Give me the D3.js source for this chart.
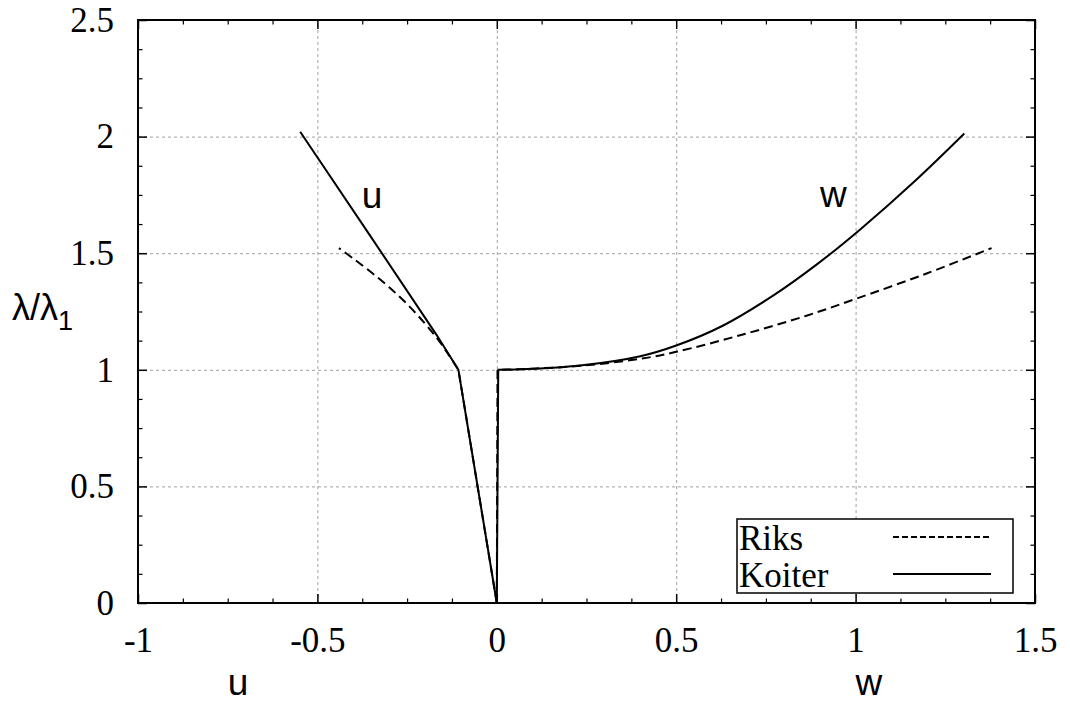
<!DOCTYPE html>
<html>
<head>
<meta charset="utf-8">
<script src="https://cdn.jsdelivr.net/npm/d3@7"></script>
<style>
    body { margin: 0; background: #fff; }
    svg { display: block; }
    .serif { font-family: 'Liberation Serif', 'DejaVu Serif', 'Noto Serif', 'Times New Roman', serif; }
    .sans { font-family: 'Liberation Sans', Arial, Helvetica, sans-serif; }
</style>
</head>
<body>
<svg id="chart" width="1070" height="704"></svg>
<script>
// values, [displacement, load ratio]
// first two points = straight stem up to the buckling load, the rest = post-buckling branch
const riksU = [[0, 0], [-0.107, 1.0], [-0.13, 1.055], [-0.16, 1.122], [-0.2, 1.198], [-0.25, 1.282], [-0.3, 1.354], [-0.35, 1.418], [-0.4, 1.477], [-0.44, 1.522]];
const koiterU = [[0, 0], [-0.107, 1.0], [-0.168, 1.15], [-0.363, 1.598], [-0.548, 2.021]];
const riksW = [[0, 0], [0.002, 1.0], [0.1, 1.005], [0.232, 1.017], [0.4, 1.047], [0.5, 1.077], [0.678, 1.148], [0.863, 1.232], [1.0, 1.304], [1.198, 1.413], [1.379, 1.522]];
const koiterW = [[0, 0], [0.004, 1.0], [0.1, 1.004], [0.232, 1.018], [0.4, 1.058], [0.5, 1.104], [0.631, 1.190], [0.771, 1.319], [0.892, 1.452], [1.012, 1.601], [1.170, 1.816], [1.303, 2.013]];

const xTicks = [-1, -0.5, 0, 0.5, 1, 1.5];
const yTicks = [0, 0.5, 1, 1.5, 2, 2.5];
const legendLabels = ['Riks', 'Koiter'];

const width = 1070;
const height = 704;
const marginTop = 20;
const marginRight = 35;
const marginBottom = 101;
const marginLeft = 138;

const svg = d3.select('#chart');

const x = d3.scaleLinear()
    .domain([-1, 1.5])
    .range([marginLeft, width - marginRight]);

const y = d3.scaleLinear()
    .domain([0, 2.5])
    .range([height - marginBottom, marginTop]);

const minorX = d3.range(-1, 1.5001, 0.125).filter(d => !xTicks.some(t => Math.abs(t - d) < 1e-6));
const minorY = d3.range(0, 2.5001, 0.125).filter(d => !yTicks.some(t => Math.abs(t - d) < 1e-6));

// Grid lines
svg.append('g')
    .attr('transform', `translate(0, ${height - marginBottom})`)
    .call(d3.axisBottom(x).tickValues(xTicks.slice(1, -1)).tickSize(-(height - marginTop - marginBottom)).tickFormat(''))
    .call(g => g.select('.domain').remove())
    .selectAll('line')
    .attr('stroke', '#a0a0a0')
    .attr('stroke-width', 1)
    .attr('stroke-dasharray', '3,3');

svg.append('g')
    .attr('transform', `translate(${marginLeft}, 0)`)
    .call(d3.axisLeft(y).tickValues(yTicks.slice(1, -1)).tickSize(-(width - marginLeft - marginRight)).tickFormat(''))
    .call(g => g.select('.domain').remove())
    .selectAll('line')
    .attr('stroke', '#a0a0a0')
    .attr('stroke-width', 1)
    .attr('stroke-dasharray', '3,3');

// Curves: straight stem + smooth branch
const stem = d3.line().x(d => x(d[0])).y(d => y(d[1]));
const branch = d3.line().x(d => x(d[0])).y(d => y(d[1])).curve(d3.curveCatmullRom.alpha(0.5));

const curves = [
    { data: riksU, smooth: true, dash: '9,5' },
    { data: riksW, smooth: true, dash: '9,5' },
    { data: koiterU, smooth: false, dash: null },
    { data: koiterW, smooth: true, dash: null }
];

function curvePath(d) {
    if (!d.smooth) return stem(d.data);
    // stem as a straight segment, then continue the branch from the kink
    const s = stem(d.data.slice(0, 2));
    const b = branch(d.data.slice(1));
    return s + 'L' + b.slice(1);
}

svg.append('g')
    .selectAll('path')
    .data(curves)
    .join('path')
        .attr('d', curvePath)
        .attr('fill', 'none')
        .attr('stroke', '#000')
        .attr('stroke-width', 2)
        .attr('stroke-linejoin', 'round')
        .attr('stroke-dasharray', d => d.dash);

// Axes: major + minor ticks, mirrored on all four sides
function styleTicks(g, w) {
    g.select('.domain').remove();
    g.selectAll('line').attr('stroke', '#000').attr('stroke-width', w);
}

function styleLabels(g) {
    g.attr('font-family', null).attr('font-size', null);
    g.selectAll('text')
        .attr('class', 'serif')
        .style('font-size', '35px')
        .attr('fill', '#000');
}

svg.append('g')
    .attr('transform', `translate(0, ${height - marginBottom})`)
    .call(d3.axisBottom(x).tickValues(xTicks).tickSizeInner(-9).tickSizeOuter(0).tickPadding(24).tickFormat(d => String(d)))
    .call(g => styleTicks(g, 1.5))
    .call(styleLabels);

svg.append('g')
    .attr('transform', `translate(${marginLeft}, 0)`)
    .call(d3.axisLeft(y).tickValues(yTicks).tickSizeInner(-9).tickSizeOuter(0).tickPadding(24).tickFormat(d => String(d)))
    .call(g => styleTicks(g, 1.5))
    .call(styleLabels);

svg.append('g')
    .attr('transform', `translate(0, ${marginTop})`)
    .call(d3.axisTop(x).tickValues(xTicks).tickSizeInner(-9).tickSizeOuter(0).tickFormat(''))
    .call(g => styleTicks(g, 1.5));

svg.append('g')
    .attr('transform', `translate(${width - marginRight}, 0)`)
    .call(d3.axisRight(y).tickValues(yTicks).tickSizeInner(-9).tickSizeOuter(0).tickFormat(''))
    .call(g => styleTicks(g, 1.5));

// minor ticks
svg.append('g')
    .attr('transform', `translate(0, ${height - marginBottom})`)
    .call(d3.axisBottom(x).tickValues(minorX).tickSizeInner(-4.5).tickSizeOuter(0).tickFormat(''))
    .call(g => styleTicks(g, 1.2));
svg.append('g')
    .attr('transform', `translate(0, ${marginTop})`)
    .call(d3.axisTop(x).tickValues(minorX).tickSizeInner(-4.5).tickSizeOuter(0).tickFormat(''))
    .call(g => styleTicks(g, 1.2));
svg.append('g')
    .attr('transform', `translate(${marginLeft}, 0)`)
    .call(d3.axisLeft(y).tickValues(minorY).tickSizeInner(-4.5).tickSizeOuter(0).tickFormat(''))
    .call(g => styleTicks(g, 1.2));
svg.append('g')
    .attr('transform', `translate(${width - marginRight}, 0)`)
    .call(d3.axisRight(y).tickValues(minorY).tickSizeInner(-4.5).tickSizeOuter(0).tickFormat(''))
    .call(g => styleTicks(g, 1.2));

// Frame
svg.append('rect')
    .attr('x', marginLeft)
    .attr('y', marginTop)
    .attr('width', width - marginLeft - marginRight)
    .attr('height', height - marginTop - marginBottom)
    .attr('fill', 'none')
    .attr('stroke', '#000')
    .attr('stroke-width', 2);

// Labels
const labels = svg.append('g')
    .attr('class', 'sans')
    .style('font-size', '37px')
    .attr('text-anchor', 'middle');

labels.append('text').attr('x', x(-0.348)).attr('y', y(1.694)).text('u');
labels.append('text').attr('x', x(0.938)).attr('y', y(1.698)).text('w');
labels.append('text').attr('x', x(-0.721)).attr('y', 695).text('u');
labels.append('text').attr('x', x(1.037)).attr('y', 695).text('w');

const yLabel = svg.append('text')
    .attr('class', 'sans')
    .style('font-size', '36px')
    .attr('x', 12)
    .attr('y', 320);
yLabel.append('tspan').text('λ/λ');
yLabel.append('tspan').style('font-size', '27px').attr('dy', 10).text('1');

// Legend
const legend = svg.append('g')
    .attr('transform', 'translate(737, 519)');

legend.append('rect')
    .attr('width', 276)
    .attr('height', 74)
    .attr('fill', '#fff')
    .attr('stroke', '#000')
    .attr('stroke-width', 1.5);

const entries = legend.selectAll('g')
    .data(legendLabels)
    .join('g')
        .attr('transform', (d, i) => `translate(0, ${18 + i * 37})`);

entries.append('text')
    .attr('class', 'serif')
    .style('font-size', '35px')
    .attr('x', 2)
    .attr('y', 13)
    .text(d => d);

entries.append('line')
    .attr('x1', 156)
    .attr('x2', 254)
    .attr('stroke', '#000')
    .attr('stroke-width', 2)
    .attr('stroke-dasharray', (d, i) => i === 0 ? '6,3' : null);
</script>
</body>
</html>
